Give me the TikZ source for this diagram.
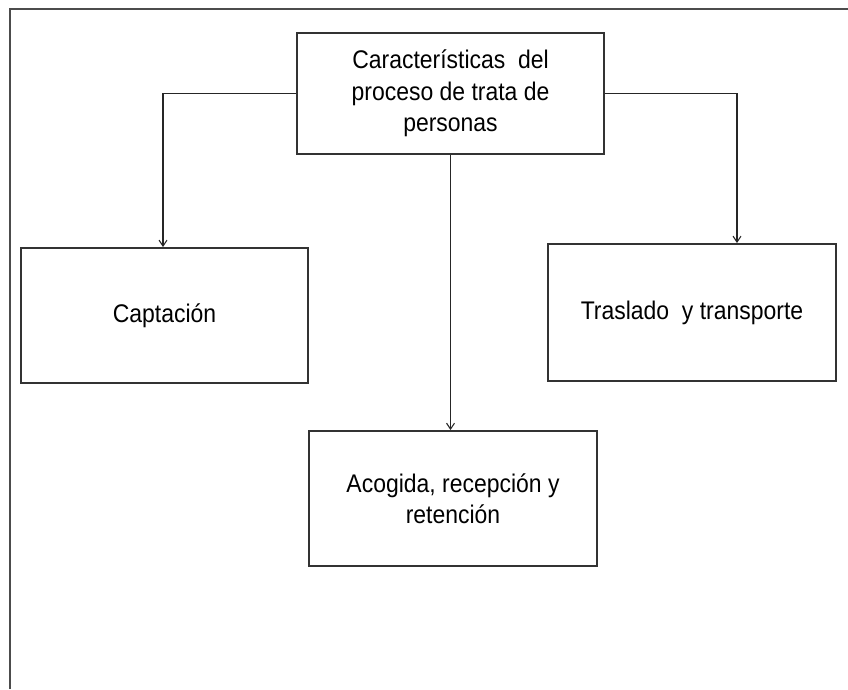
\documentclass[tikz,border=0pt]{standalone}
\usepackage{fontspec}
\setmainfont{Liberation Sans}[FakeStretch=0.9]
\usetikzlibrary{arrows.meta}
\begin{document}
\begin{tikzpicture}[x=1pt,y=-1pt,
  box/.style={draw=black!80,line width=1.8pt,rectangle,align=center,inner sep=0pt,
    font=\fontsize{25.5}{31.5}\selectfont},
  conn/.style={draw=black!85,line width=1.1pt,-{Straight Barb[length=6pt,width=8pt,line width=1.1pt]}},
  frame/.style={draw=black!70,line width=1.8pt}]
\useasboundingbox (0,0) rectangle (848,689);
\draw[frame] (10,689) -- (10,9) -- (848,9);
\node[box,minimum width=307pt,minimum height=121pt] (top) at (450.5,93.5)
  {Características\ \ del\\proceso de trata de\\personas};
\node[box,minimum width=287pt,minimum height=135pt] (capt) at (164.5,315.5) {Captación};
\node[box,minimum width=288pt,minimum height=137pt] (tras) at (692,312.5) {Traslado\ \ y transporte};
\node[box,minimum width=288pt,minimum height=135pt] (acog) at (453,498.5) {Acogida, recepción y\\retención};
\coordinate (tr) at (737,93.5);
\coordinate (tl) at (163,93.5);
\draw[conn] (top.west) -- (tl) -- (tl |- capt.north);
\draw[conn] (top.east) -- (tr) -- (tr |- tras.north);
\draw[conn] (top.south) -- (top.south |- acog.north);
\end{tikzpicture}
\end{document}
